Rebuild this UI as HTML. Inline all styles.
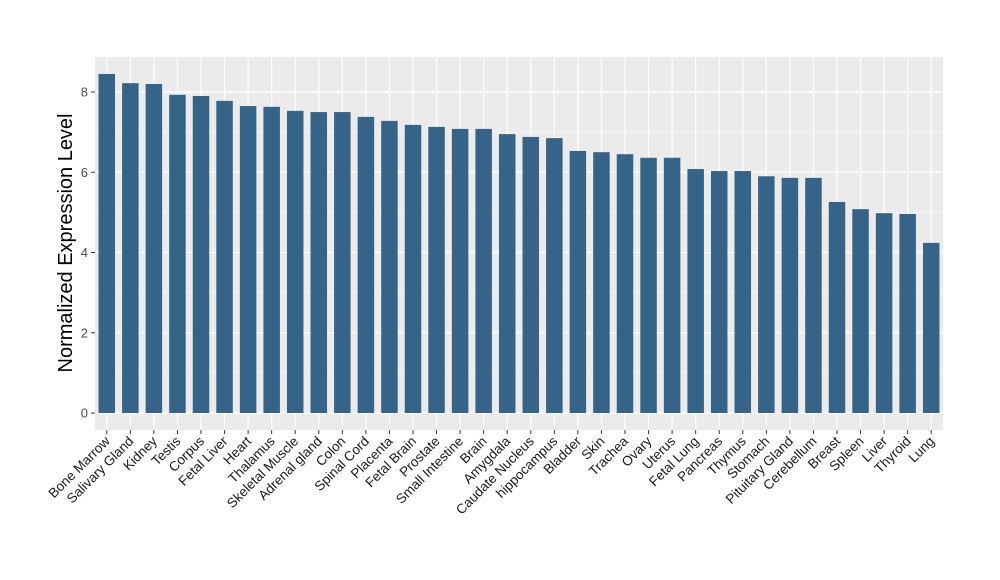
<!DOCTYPE html>
<html><head><meta charset="utf-8"><style>
html,body{margin:0;padding:0;background:#fff;}
svg{display:block;font-family:"Liberation Sans",Arial,sans-serif;}
</style></head><body>
<svg id="chart" width="1000" height="580"></svg>
<script>
const categories=["Bone Marrow","Salivary Gland","Kidney","Testis","Corpus","Fetal Liver","Heart","Thalamus","Skeletal Muscle","Adrenal gland","Colon","Spinal Cord","Placenta","Fetal Brain","Prostate","Small Intestine","Brain","Amygdala","Caudate Nucleus","hippocampus","Bladder","Skin","Trachea","Ovary","Uterus","Fetal Lung","Pancreas","Thymus","Stomach","Pituitary Gland","Cerebellum","Breast","Spleen","Liver","Thyroid","Lung"];
const values=[8.45,8.22,8.2,7.93,7.9,7.78,7.65,7.63,7.53,7.5,7.5,7.38,7.28,7.18,7.13,7.08,7.08,6.95,6.88,6.85,6.53,6.5,6.45,6.36,6.36,6.08,6.03,6.03,5.9,5.86,5.86,5.26,5.08,4.98,4.96,4.24];
const yTicks=[0,2,4,6,8];
const yMinor=[1,3,5,7];
const NS="http://www.w3.org/2000/svg";
const svg=document.getElementById('chart');
const L=95,R=943,T=57,B=430;
const y=v=>413-v*40.125;
const step=(R-L)/categories.length;
const x=i=>L+step*(i+0.5);
const bw=step*0.7;
function mk(tag,attrs,parent){const e=document.createElementNS(NS,tag);for(const k in attrs)e.setAttribute(k,attrs[k]);(parent||svg).appendChild(e);return e;}
const panel=mk('rect',{x:L,y:T,width:R-L,height:B-T,fill:'#EBEBEB'});


yMinor.forEach(v=>{const l=mk('line',{x1:L,x2:R,y1:y(v),y2:y(v),stroke:'#fff','stroke-width':0.6});

});
yTicks.forEach(v=>{const l=mk('line',{x1:L,x2:R,y1:y(v),y2:y(v),stroke:'#fff','stroke-width':1.2});


const t=mk('line',{x1:L-4,x2:L,y1:y(v),y2:y(v),stroke:'#333','stroke-width':1});


const tx=mk('text',{x:L-7,y:y(v)+4.5,'text-anchor':'end','font-size':13,fill:'#4d4d4d'});tx.textContent=v;

});
categories.forEach((c,i)=>{const l=mk('line',{x1:x(i),x2:x(i),y1:T,y2:B,stroke:'#fff','stroke-width':1.2});

});
categories.forEach((c,i)=>{
const b=mk('rect',{x:x(i)-bw/2,y:y(values[i]),width:bw,height:y(0)-y(values[i]),fill:'#366488'});


const t=mk('line',{x1:x(i),x2:x(i),y1:B,y2:B+4,stroke:'#333','stroke-width':1});


const tx=mk('text',{x:x(i)+4,y:B+12,'text-anchor':'end','font-size':13.5,fill:'#1a1a1a',transform:`rotate(-45 ${x(i)+4} ${B+12})`});tx.textContent=c;


});
const yt=mk('text',{x:72,y:243,'text-anchor':'middle','font-size':20,fill:'#000',transform:'rotate(-90 72 243)'});yt.textContent='Normalized Expression Level';


</script>
</body></html>
